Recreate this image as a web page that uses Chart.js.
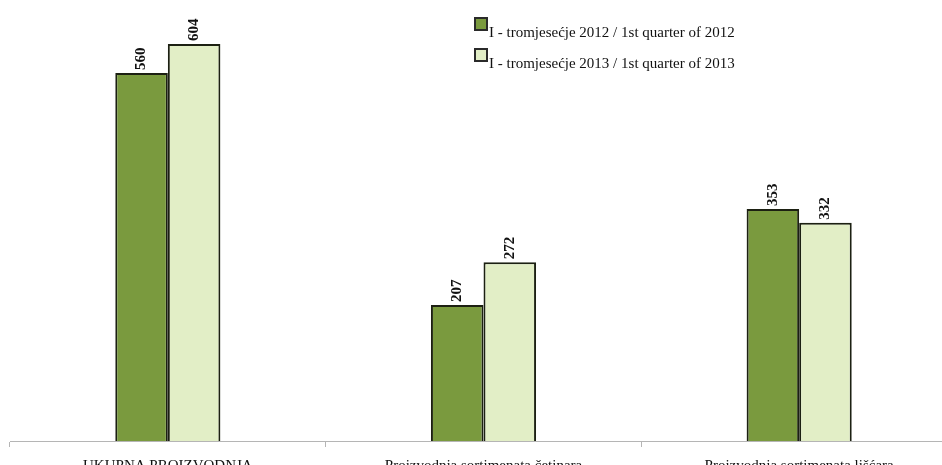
<!DOCTYPE html>
<html>
<head>
<meta charset="utf-8">
<script src="https://cdn.jsdelivr.net/npm/chart.js@4/dist/chart.umd.min.js"></script>
<style>
html,body{margin:0;padding:0;background:#fff;overflow:hidden;}
#wrap{width:957px;height:475px;position:relative;}
</style>
</head>
<body>
<div id="wrap"><canvas id="c"></canvas></div>
<script>
const categories=["UKUPNA PROIZVODNJA","Proizvodnja sortimenata četinara","Proizvodnja sortimenata lišćara"];
const q2012=[560,207,353];
const q2013=[604,272,332];
const seriesNames=["I - tromjesećje 2012 / 1st quarter of 2012","I - tromjesećje 2013 / 1st quarter of 2013"];
const fills=["#7a9a3e","#e2eec6"];

const font="'Liberation Serif','Times New Roman',serif";

const labelPlugin={
    id:"labels",
    afterDatasetsDraw(chart){
        const ctx=chart.ctx;
        ctx.save();
        ctx.fillStyle="#111";
        ctx.font="bold 15px "+font;
        ctx.textAlign="left";
        ctx.textBaseline="middle";
        chart.data.datasets.forEach((ds,di)=>{
            chart.getDatasetMeta(di).data.forEach((bar,i)=>{
                ctx.save();
                ctx.translate(bar.x,bar.y-3);
                ctx.rotate(-Math.PI/2);
                ctx.fillText(ds.data[i],0,0);
                ctx.restore();
            });
        });
        ctx.restore();
    }
};

const legendPlugin={
    id:"myLegend",
    afterDraw(chart){
        const ctx=chart.ctx;
        ctx.save();
        chart.data.datasets.forEach((ds,i)=>{
            const x=474,y=17+i*31;
            ctx.fillStyle="#2a2a2a";
            ctx.fillRect(x,y,14,14);
            ctx.fillStyle=fills[i];
            ctx.fillRect(x+2,y+2,10,10);
            ctx.fillStyle="#111";
            ctx.font="15px "+font;
            ctx.textBaseline="middle";
            ctx.fillText(ds.label,489,y+16);
        });
        ctx.restore();
    }
};

new Chart(document.getElementById("c"),{
    type:"bar",
    data:{
        labels:categories,
        datasets:[
            {label:seriesNames[0],data:q2012,backgroundColor:fills[0],borderColor:"#1c2012",borderWidth:2},
            {label:seriesNames[1],data:q2013,backgroundColor:fills[1],borderColor:"#1c2012",borderWidth:2}
        ]
    },
    options:{
        responsive:true,
        maintainAspectRatio:false,
        animation:false,
        layout:{padding:{left:10,right:0,top:0,bottom:0}},
        categoryPercentage:0.333,
        barPercentage:1,
        plugins:{legend:{display:false},tooltip:{enabled:false}},
        scales:{
            x:{
                grid:{display:true,drawOnChartArea:false,drawTicks:true,tickLength:6,color:"#b5b5b5",offset:true},
                border:{display:true,color:"#b5b5b5"},
                ticks:{color:"#111",font:{family:font,size:15},padding:10,maxRotation:0},
                afterFit(s){s.height=34;}
            },
            y:{
                display:false,
                min:0,
                max:671
            }
        }
    },
    plugins:[labelPlugin,legendPlugin]
});
</script>
</body>
</html>
